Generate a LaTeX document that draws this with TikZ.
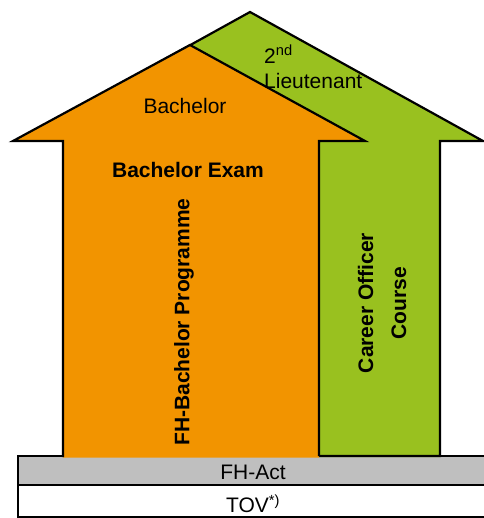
\documentclass[tikz,border=0pt]{standalone}
\usepackage{fontspec}
\setmainfont{Liberation Sans}

\definecolor{bachelororange}{HTML}{F29400}
\definecolor{officergreen}{HTML}{99C11F}
\definecolor{actgray}{HTML}{BFBFBF}

\tikzset{
    outline/.style={draw=black, line width=2.2pt, line join=miter},
    lbl/.style={inner sep=0pt, font=\fontsize{21}{25}\selectfont},
    boldlbl/.style={inner sep=0pt, font=\fontsize{21}{33}\selectfont\bfseries},
}

\begin{document}
\begin{tikzpicture}[x=1pt, y=-1pt]
        \useasboundingbox (0,0) rectangle (483,518);
        % base layers
        \draw[outline, fill=actgray] (18,456) rectangle (490,485);
        \draw[outline, fill=white] (18,485) rectangle (490,517);
        % green arrow (behind)
        \fill[officergreen] (250,12) -- (483,141) -- (440,141) -- (440,457) -- (319,457) -- (319,141) -- (17,141) -- cycle;
        \draw[outline] (17,141) -- (250,12) -- (483,141) -- (440,141) -- (440,456) -- (319,456);
        % orange arrow (front)
        \fill[bachelororange] (190,45) -- (365,141) -- (319,141) -- (319,457.5) -- (63,457.5) -- (63,141) -- (13,141) -- cycle;
        \draw[outline] (63,457) -- (63,141) -- (13,141) -- (190,45) -- (365,141) -- (319,141) -- (319,456);
        % labels
        \node[lbl] (bachelor) at (185,106) {Bachelor};
        \node[boldlbl] (exam) at (188,170) {Bachelor Exam};
        \node[boldlbl, rotate=90] (programme) at (184,322) {FH-Bachelor Programme};
        \node[boldlbl, rotate=90, align=center] (course) at (382,303) {Career Officer\\Course};
        \node[lbl, align=left, anchor=west] (lieutenant) at (264,67) {2\textsuperscript{nd}\\Lieutenant};
        \node[lbl] (fhact) at (253,472) {FH-Act};
        \node[lbl] (tov) at (253,504) {TOV\textsuperscript{*)}};
    \end{tikzpicture}
\end{document}
